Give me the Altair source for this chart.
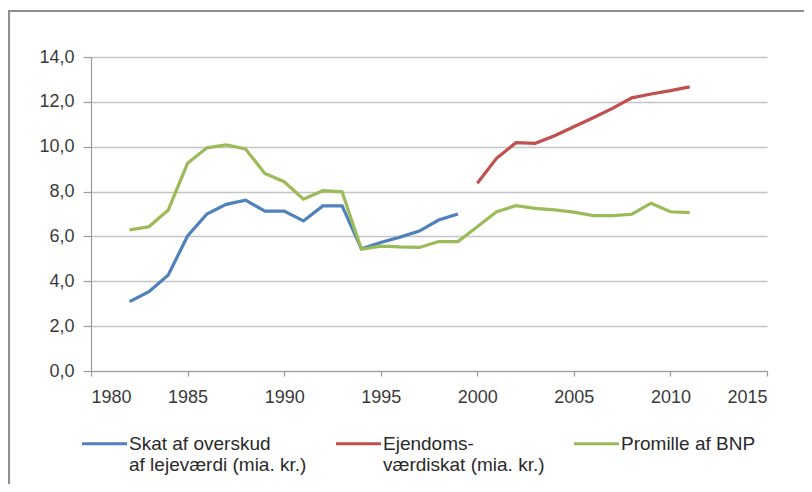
import altair as alt
import pandas as pd

# ---- data ----
years_blue = list(range(1982, 2000))
skat_overskud = [3.09, 3.54, 4.28, 6.02, 7.00, 7.43, 7.62, 7.13, 7.13, 6.69,
                 7.36, 7.36, 5.45, 5.73, 5.97, 6.24, 6.73, 7.00]

years_red = list(range(2000, 2012))
ejendomsvaerdiskat = [8.37, 9.48, 10.18, 10.15, 10.49, 10.89, 11.29, 11.71,
                      12.18, 12.35, 12.50, 12.67]

years_green = list(range(1982, 2012))
promille_bnp = [6.29, 6.43, 7.18, 9.26, 9.95, 10.08, 9.90, 8.81, 8.44, 7.66,
                8.04, 7.99, 5.43, 5.57, 5.53, 5.51, 5.77, 5.77, 6.43, 7.10,
                7.37, 7.25, 7.18, 7.08, 6.93, 6.93, 6.99, 7.48, 7.10, 7.06]

series_names = ["Skat af overskud|af lejeværdi (mia. kr.)",
                "Ejendoms-|værdiskat (mia. kr.)",
                "Promille af BNP| "]
series_colors = ["#4F81BD", "#C0504D", "#9BBB59"]

x_ticks = [1980, 1985, 1990, 1995, 2000, 2005, 2010, 2015]
y_ticks = [0, 2, 4, 6, 8, 10, 12, 14]

rows = []
for name, yrs, vals in [(series_names[0], years_blue, skat_overskud),
                        (series_names[1], years_red, ejendomsvaerdiskat),
                        (series_names[2], years_green, promille_bnp)]:
    for yr, v in zip(yrs, vals):
        rows.append({"year": yr, "value": v, "series": name})
df = pd.DataFrame(rows)

FONT = "Liberation Sans"
TXT = "#3a3a3a"

lines = alt.Chart(df).mark_line(strokeWidth=3.2).encode(
    x=alt.X("year:Q",
            scale=alt.Scale(domain=[1980, 2015], nice=False, zero=False),
            axis=alt.Axis(values=x_ticks, format="d", title=None, grid=False,
                          domainColor="#9a9a9a", domainWidth=1.2,
                          tickColor="#9a9a9a", tickSize=5, tickWidth=1.2,
                          labelPadding=12, labelFontSize=18, labelFont=FONT,
                          labelColor=TXT)),
    y=alt.Y("value:Q",
            scale=alt.Scale(domain=[0, 14], nice=False),
            axis=alt.Axis(values=y_ticks, title=None, grid=True,
                          gridColor="#c4c4c4", gridWidth=1.5,
                          labelExpr="replace(format(datum.value, '.1f'), '.', ',')",
                          domainColor="#9a9a9a", domainWidth=1.2,
                          tickColor="#9a9a9a", tickSize=8, tickWidth=1.2,
                          labelPadding=9, labelFontSize=18, labelFont=FONT,
                          labelColor=TXT)),
    color=alt.Color("series:N",
                    scale=alt.Scale(domain=series_names, range=series_colors),
                    legend=alt.Legend(orient="none", legendX=-11, legendY=362,
                                      direction="horizontal", columns=3,
                                      title=None, padding=0,
                                      columnPadding=22,
                                      symbolType="M-1,0L1,0",
                                      symbolSize=2025, symbolStrokeWidth=3.2,
                                      labelExpr="split(datum.label, '|')",
                                      labelFont=FONT, labelFontSize=19,
                                      labelColor="#2a2a2a", labelOffset=0,
                                      labelLimit=400)),
)

frame = alt.Chart(pd.DataFrame({"k": [0]})).mark_rect(
    fill=None, stroke="#8e8e8e", strokeWidth=2.2
).encode(
    x=alt.value(-82), x2=alt.value(760),
    y=alt.value(-46), y2=alt.value(600),
)

chart = alt.layer(frame, lines).properties(
    width=676, height=314,
    autosize=alt.AutoSizeParams(type="none"),
    padding={"left": 83, "top": 49, "right": 37, "bottom": 113},
    background="white",
).configure_view(stroke=None)

chart.save("out.html", embed_options={"renderer": "svg", "actions": False})
